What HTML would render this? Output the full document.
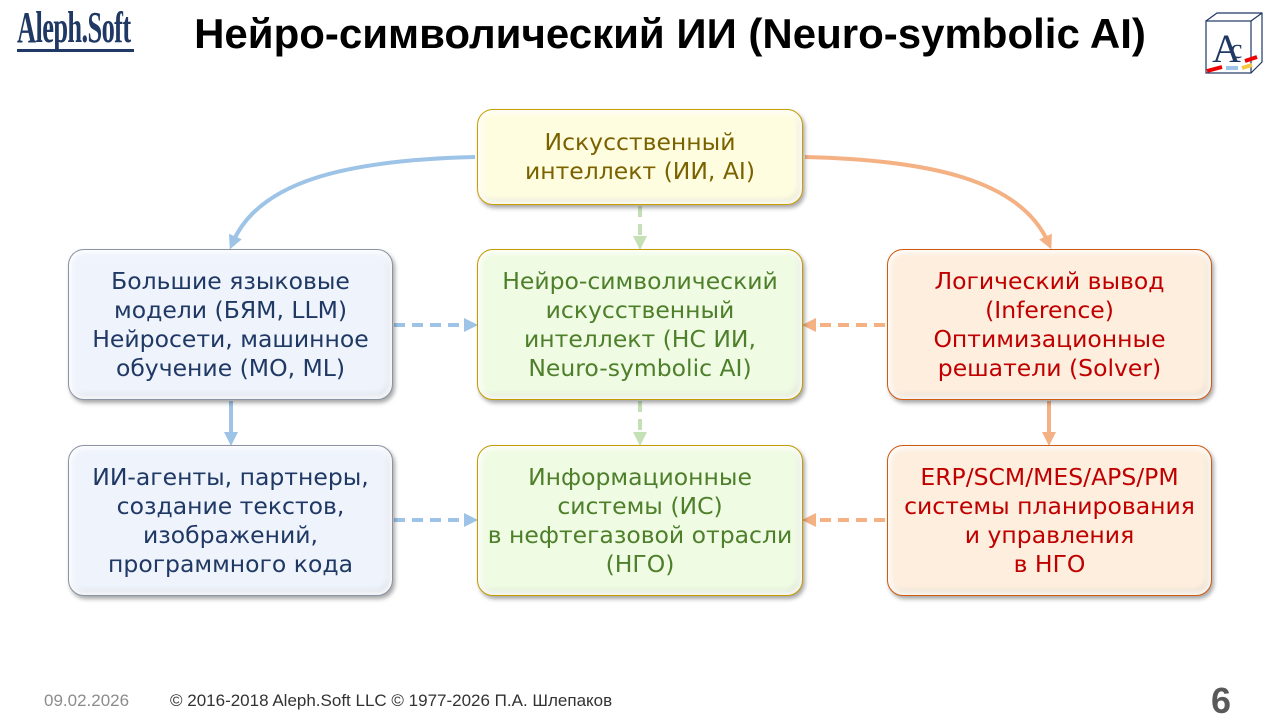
<!DOCTYPE html>
<html><head><meta charset="utf-8"><style>
body{margin:0;width:1280px;height:720px;background:#fff;position:relative;overflow:hidden;font-family:"DejaVu Sans","Liberation Sans",sans-serif}
.b{position:absolute;box-sizing:border-box;border-radius:16px;border:1.5px solid;display:flex;align-items:center;justify-content:center;text-align:center;font-size:23.5px;line-height:29px;white-space:nowrap;box-shadow:2px 3px 4px rgba(0,0,0,.35), inset 0 0 6px 3px rgba(255,255,255,.9), inset -3px -4px 6px rgba(0,0,0,.12)}
.y{background:#fffde0;border-color:#c9a000;color:#7b6200}
.g{background:#effbe2;border-color:#c49c00;color:#4e7f2b}
.l{background:#eef3fc;border-color:#8a94a4;color:#1f3864}
.r{background:#fdeedd;border-color:#d05a10;color:#c00000}
.t{position:absolute;top:10px;left:0;width:1340px;text-align:center;font:bold 42px "Liberation Sans",sans-serif;color:#000}
</style></head><body>
<div style="position:absolute;left:17px;top:2px;font:bold 44px 'Liberation Serif',serif;color:#1f3864;transform:scaleX(.6);transform-origin:left;letter-spacing:-1px;white-space:nowrap">Aleph.Soft</div>
<div style="position:absolute;left:17px;top:49px;width:117px;height:3px;background:#1f3864"></div>
<div class="t">Нейро-символический ИИ (Neuro-symbolic AI)</div>
<svg style="position:absolute;left:1200px;top:10px" width="65" height="68">
<rect x="6" y="11" width="45" height="52" fill="none" stroke="#1f3864" stroke-width="1.2"/>
<path d="M6 11L17 3H62V52L51 63M51 11L62 3" fill="none" stroke="#1f3864" stroke-width="1.2"/>
<text x="12" y="52" font-family="Liberation Serif" font-size="40" fill="#1f3864">A</text>
<text x="30" y="48" font-family="Liberation Serif" font-size="28" fill="#1f3864">c</text>
<path d="M7 61L22 57" stroke="#e00" stroke-width="4"/><path d="M26 58L38 58" stroke="#9cc3e8" stroke-width="4"/><path d="M42 58L52 55" stroke="#f5c842" stroke-width="4"/><path d="M45 51L57 47" stroke="#e00" stroke-width="4"/>
</svg>
<svg style="position:absolute;left:0;top:0" width="1280" height="720">
<defs>
<marker id="ab" markerWidth="3.5" markerHeight="3.5" refX="1.5" refY="1.75" orient="auto" markerUnits="strokeWidth"><path d="M0,0L3.5,1.75L0,3.5z" fill="#9dc3e6"/></marker>
<marker id="ao" markerWidth="3.5" markerHeight="3.5" refX="1.5" refY="1.75" orient="auto" markerUnits="strokeWidth"><path d="M0,0L3.5,1.75L0,3.5z" fill="#f4b183"/></marker>
<marker id="ag" markerWidth="3.5" markerHeight="3.5" refX="1.5" refY="1.75" orient="auto" markerUnits="strokeWidth"><path d="M0,0L3.5,1.75L0,3.5z" fill="#c5e0b4"/></marker>
</defs>
<path d="M475 157C350 160 260 180 233 242" fill="none" stroke="#9dc3e6" stroke-width="4" marker-end="url(#ab)"/>
<path d="M805 157C930 160 1020 180 1048 242" fill="none" stroke="#f4b183" stroke-width="4" marker-end="url(#ao)"/>
<g stroke-width="4" stroke-dasharray="11 7" fill="none">
<path d="M394 325H470" stroke="#9dc3e6" marker-end="url(#ab)"/>
<path d="M394 520H470" stroke="#9dc3e6" marker-end="url(#ab)"/>
<path d="M885 325H810" stroke="#f4b183" marker-end="url(#ao)"/>
<path d="M885 520H810" stroke="#f4b183" marker-end="url(#ao)"/>
<path d="M640 206V242" stroke="#c5e0b4" marker-end="url(#ag)"/>
<path d="M640 401V438" stroke="#c5e0b4" marker-end="url(#ag)"/>
</g>
<path d="M231 401V438" stroke="#9dc3e6" stroke-width="4" marker-end="url(#ab)"/>
<path d="M1049 401V438" stroke="#f4b183" stroke-width="4" marker-end="url(#ao)"/>
</svg>
<div class="b y" style="left:477px;top:109px;width:326px;height:96px">Искусственный<br>интеллект (ИИ, AI)</div>
<div class="b l" style="left:68px;top:249px;width:325px;height:151px">Большие языковые<br>модели (БЯМ, LLM)<br>Нейросети, машинное<br>обучение (МО, ML)</div>
<div class="b g" style="left:477px;top:249px;width:326px;height:151px">Нейро-символический<br>искусственный<br>интеллект (НС ИИ,<br>Neuro-symbolic AI)</div>
<div class="b r" style="left:887px;top:249px;width:325px;height:151px">Логический вывод<br>(Inference)<br>Оптимизационные<br>решатели (Solver)</div>
<div class="b l" style="left:68px;top:445px;width:325px;height:151px">ИИ-агенты, партнеры,<br>создание текстов,<br>изображений,<br>программного кода</div>
<div class="b g" style="left:477px;top:445px;width:326px;height:151px">Информационные<br>системы (ИС)<br>в нефтегазовой отрасли<br>(НГО)</div>
<div class="b r" style="left:887px;top:445px;width:325px;height:151px">ERP/SCM/MES/APS/PM<br>системы планирования<br>и управления<br>в НГО</div>
<div style="position:absolute;left:44px;top:691px;font:17px 'Liberation Sans',sans-serif;color:#8c8c8c">09.02.2026</div>
<div style="position:absolute;left:170px;top:691px;font:17px 'Liberation Sans',sans-serif;color:#333">© 2016-2018 Aleph.Soft LLC © 1977-2026 П.А. Шлепаков</div>
<div style="position:absolute;left:1211px;top:680px;font:bold 36px 'Liberation Sans',sans-serif;color:#595959">6</div>
</body></html>
